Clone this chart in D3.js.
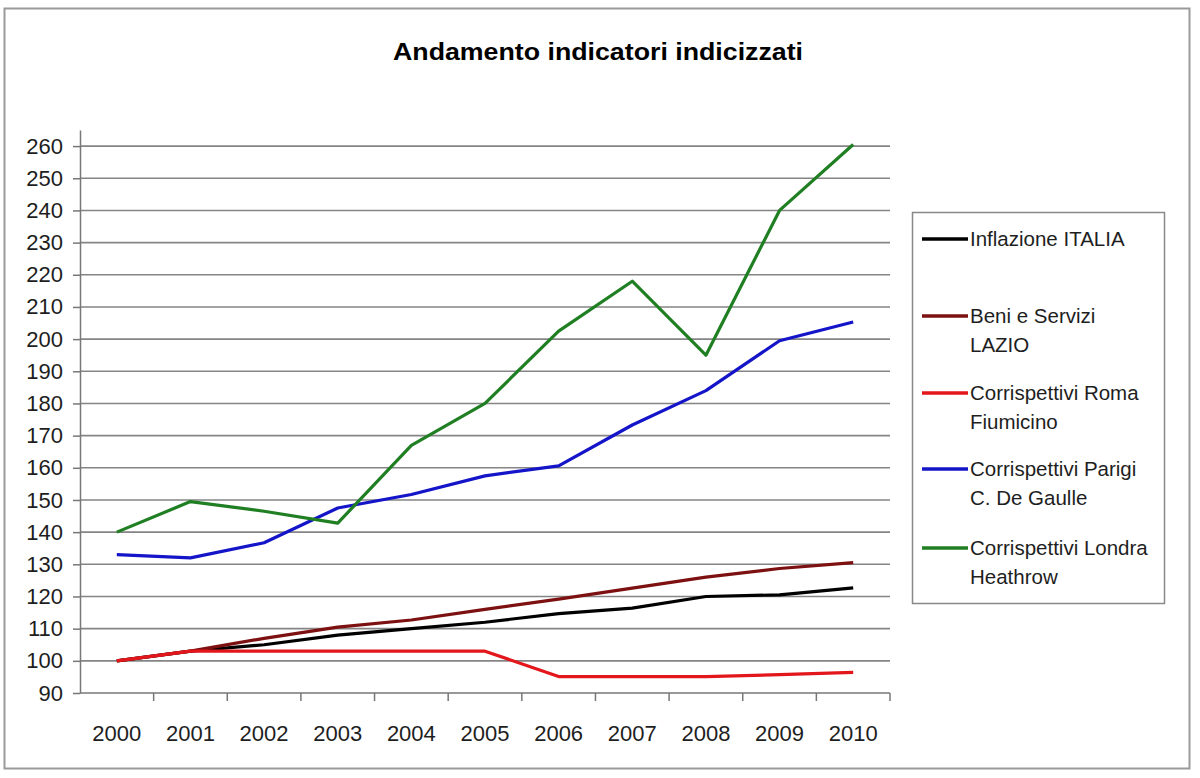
<!DOCTYPE html>
<html>
<head>
<meta charset="utf-8">
<script src="https://cdn.jsdelivr.net/npm/d3@7/dist/d3.min.js"></script>
<style>
  body { margin: 0; background: #fff; }
  svg { font-family: "Liberation Sans", Arial, sans-serif; }
  .grid line { stroke: #858585; stroke-width: 1.6; }
  .axis path, .axis line { stroke: #777; stroke-width: 1.5; }
  .axis text { fill: #1e1e1e; font-size: 22px; }
  .serie { fill: none; stroke-width: 3.2; stroke-linejoin: round; }
</style>
</head>
<body>
<div id="chart"></div>
<script>
// anni e serie (indice 2000 = 100)
var years = ["2000","2001","2002","2003","2004","2005","2006","2007","2008","2009","2010"];
var yTicks = [90,100,110,120,130,140,150,160,170,180,190,200,210,220,230,240,250,260];

var inflazioneItalia = [100, 103, 105, 108, 110, 112, 114.7, 116.4, 120, 120.5, 122.7];
var beniServiziLazio = [100, 103, 107, 110.5, 112.7, 116, 119.2, 122.6, 126, 128.7, 130.5];
var romaFiumicino = [100, 103, 103, 103, 103, 103, 95.1, 95.1, 95.1, 95.7, 96.4];
var parigiCDG = [133, 132, 136.7, 147.5, 151.7, 157.5, 160.6, 173.3, 184, 199.5, 205.3];
var londraHeathrow = [140, 149.5, 146.5, 142.8, 167, 180, 202.5, 218, 195, 240, 260.5];

var seriesNames = [
    ["Inflazione ITALIA"],
    ["Beni e Servizi", "LAZIO"],
    ["Corrispettivi Roma", "Fiumicino"],
    ["Corrispettivi Parigi", "C. De Gaulle"],
    ["Corrispettivi Londra", "Heathrow"]
];
var seriesColors = ["#000000", "#7d1010", "#e3161b", "#1414c8", "#1f7f22"];

var series = [inflazioneItalia, beniServiziLazio, romaFiumicino, parigiCDG, londraHeathrow];

var width = 1200,
    height = 778;

var svg = d3.select("#chart")
    .append("svg")
    .attr("width", width)
    .attr("height", height);

// cornice esterna
svg.append("rect")
    .attr("x", 4.5).attr("y", 8.5)
    .attr("width", 1185).attr("height", 760)
    .attr("fill", "#fff")
    .attr("stroke", "#9a9a9a")
    .attr("stroke-width", 2);

// titolo
svg.append("text")
    .attr("x", 598).attr("y", 60)
    .attr("text-anchor", "middle")
    .attr("font-size", 24)
    .attr("font-weight", "bold")
    .attr("textLength", 410)
    .attr("lengthAdjust", "spacingAndGlyphs")
    .text("Andamento indicatori indicizzati");

var x = d3.scaleBand()
    .domain(years)
    .range([80, 890]);

var y = d3.scaleLinear()
    .domain([90, 265])
    .range([693, 130]);

// griglia orizzontale
svg.append("g")
    .attr("class", "grid")
    .selectAll("line")
    .data(yTicks.slice(1))
    .enter()
    .append("line")
    .attr("x1", 80).attr("x2", 890)
    .attr("y1", function(d) { return y(d); })
    .attr("y2", function(d) { return y(d); });

// asse y
var yAxis = svg.append("g")
    .attr("class", "axis")
    .attr("transform", "translate(80,0)")
    .call(d3.axisLeft(y).tickValues(yTicks).tickSize(7).tickPadding(10).tickSizeOuter(0));

// asse x: tacche tra le categorie
var xAxis = svg.append("g")
    .attr("class", "axis")
    .attr("transform", "translate(0,693)");
xAxis.append("line")
    .attr("x1", 80).attr("x2", 890)
    .attr("y1", 0).attr("y2", 0);
xAxis.selectAll(".tk")
    .data(years)
    .enter()
    .append("line")
    .attr("class", "tk")
    .attr("x1", function(d) { return x(d) + x.bandwidth(); })
    .attr("x2", function(d) { return x(d) + x.bandwidth(); })
    .attr("y1", 0).attr("y2", 8);
xAxis.selectAll("text")
    .data(years)
    .enter()
    .append("text")
    .attr("x", function(d) { return x(d) + x.bandwidth() / 2; })
    .attr("y", 48)
    .attr("text-anchor", "middle")
    .text(function(d) { return d; });

// linee
var line = d3.line()
    .x(function(d, i) { return x(years[i]) + x.bandwidth() / 2; })
    .y(function(d) { return y(d); });

svg.append("g")
    .selectAll("path")
    .data(series)
    .enter()
    .append("path")
    .attr("class", "serie")
    .attr("d", line)
    .attr("stroke", function(d, i) { return seriesColors[i]; });

// legenda
var legend = svg.append("g");
legend.append("rect")
    .attr("x", 912.5).attr("y", 212.5)
    .attr("width", 252).attr("height", 391)
    .attr("fill", "#fff")
    .attr("stroke", "#888")
    .attr("stroke-width", 1.5);

var legendY = [239, 316, 393, 469, 548];
var item = legend.selectAll(".item")
    .data(seriesNames)
    .enter()
    .append("g")
    .attr("transform", function(d, i) { return "translate(0," + legendY[i] + ")"; });

item.append("line")
    .attr("x1", 922).attr("x2", 968)
    .attr("y1", 0).attr("y2", 0)
    .attr("stroke-width", 3.5)
    .attr("stroke", function(d, i) { return seriesColors[i]; });

item.selectAll("text")
    .data(function(d) { return d; })
    .enter()
    .append("text")
    .attr("x", 970)
    .attr("y", function(d, j) { return 7 + j * 29; })
    .attr("font-size", 20.5)
    .attr("fill", "#1e1e1e")
    .text(function(d) { return d; });
</script>
</body>
</html>
